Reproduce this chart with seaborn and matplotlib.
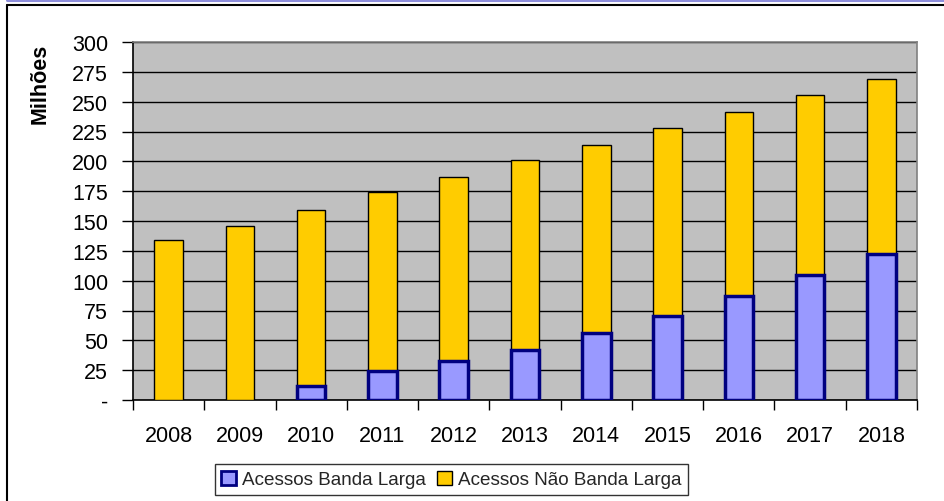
import numpy as np
import pandas as pd
import matplotlib
matplotlib.use("Agg")
import matplotlib.pyplot as plt
from matplotlib.patches import Patch
from matplotlib.lines import Line2D
import seaborn as sns

# ---- data (millions) ----
years = ["2008", "2009", "2010", "2011", "2012", "2013", "2014", "2015", "2016", "2017", "2018"]
banda_larga = [np.nan, np.nan, 11.5, 24, 33, 41.5, 56, 70, 87, 104.5, 122.5]
nao_banda_larga = [134, 146, 148, 150, 154, 159.5, 158, 158, 154.5, 151.5, 146.5]
y_ticks = [0, 25, 50, 75, 100, 125, 150, 175, 200, 225, 250, 275, 300]
y_tick_labels = ["-"] + [str(v) for v in y_ticks[1:]]
series_names = ["Acessos Banda Larga", "Acessos Não Banda Larga"]

df = pd.DataFrame({
    "ano": years,
    "bl": banda_larga,
    "nbl": nao_banda_larga,
})
df["total"] = df["bl"].fillna(0) + df["nbl"]

sns.set_theme(style="white")
plt.rcParams["font.family"] = ["Liberation Sans", "DejaVu Sans"]
FS = 15.5
LFS = 13.6

fig = plt.figure(figsize=(9.45, 5.02), dpi=100)
ax = fig.add_axes([133 / 945, 101 / 502, 784 / 945, 358 / 502])
ax.set_facecolor("#C0C0C0")

BLUE = "#9999FF"
NAVY = "#000080"
YELLOW = "#FFCC00"

sns.barplot(data=df, x="ano", y="total", color=YELLOW, saturation=1,
            width=0.4, edgecolor="black", linewidth=1.0, ax=ax, zorder=3)
sns.barplot(data=df, x="ano", y="bl", color=BLUE, saturation=1,
            width=0.4, edgecolor=NAVY, linewidth=2.5, ax=ax, zorder=4)

ax.set_xlim(-0.5, len(years) - 0.5)
ax.set_ylim(0, 300)
ax.set_yticks(y_ticks)
ax.set_yticklabels(y_tick_labels, fontsize=FS, color="black")
ax.yaxis.grid(True, color="black", linewidth=1.0, zorder=1)
ax.set_axisbelow(True)

ax.tick_params(axis="y", direction="out", length=8, width=1, color="black",
               pad=10, left=True)
ax.set_xticks(range(len(years)))
ax.set_xticklabels(years, fontsize=FS, color="black")
ax.tick_params(axis="x", which="major", length=0, pad=18)
ax.set_xticks(np.arange(-0.5, len(years), 1.0), minor=True)
ax.tick_params(axis="x", which="minor", direction="out", length=7, width=1,
               color="black", bottom=True)

ax.set_xlabel("")
ax.set_ylabel("Milhões", fontsize=FS, fontweight="bold", color="black")
ax.yaxis.set_label_coords(-0.105, 0.885)

for side in ["left", "bottom"]:
    ax.spines[side].set_color("black")
    ax.spines[side].set_linewidth(1.2)
for side in ["top", "right"]:
    ax.spines[side].set_color("#808080")
    ax.spines[side].set_linewidth(1.2)

handles = [
    Patch(facecolor=BLUE, edgecolor=NAVY, linewidth=2.0),
    Patch(facecolor=YELLOW, edgecolor="black", linewidth=1.0),
]
leg = fig.legend(handles, series_names, loc="center",
                 bbox_to_anchor=(451.5 / 945, 1 - 480.5 / 502),
                 ncol=2, fontsize=LFS, frameon=True, fancybox=False,
                 handlelength=0.75, handleheight=0.75, handletextpad=0.35,
                 columnspacing=0.6, borderpad=0.35, borderaxespad=0)
leg.get_frame().set_edgecolor("black")
leg.get_frame().set_linewidth(1.0)

# outer frame
fig.add_artist(Line2D([7 / 945, 7 / 945], [0, 1 - 5.5 / 502],
                      transform=fig.transFigure, color="black", linewidth=1.5))
fig.add_artist(Line2D([7 / 945, 1], [1 - 5.5 / 502, 1 - 5.5 / 502],
                      transform=fig.transFigure, color="black", linewidth=1.5))
fig.add_artist(Line2D([7 / 945, 1], [1 - 1.2 / 502, 1 - 1.2 / 502],
                      transform=fig.transFigure, color="#8E8EDC", linewidth=2.2))

fig.savefig("out.png", dpi=100)
